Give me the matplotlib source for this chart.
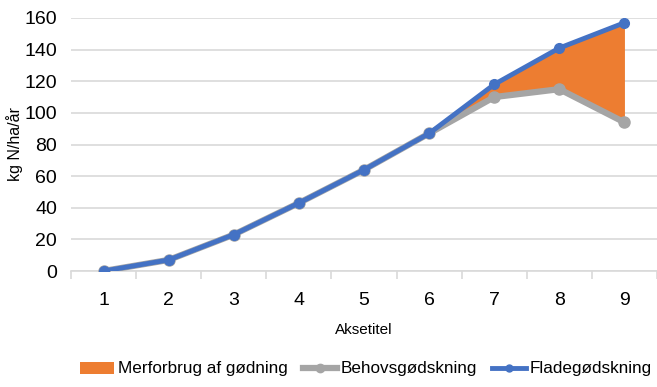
import numpy as np
import matplotlib
matplotlib.use("Agg")
import matplotlib.pyplot as plt
from matplotlib.patches import Patch
from matplotlib.lines import Line2D

# ---------------------------------------------------------------------------
# Data
# ---------------------------------------------------------------------------
categories = [1, 2, 3, 4, 5, 6, 7, 8, 9]
flade = [0, 7, 23, 43, 64, 87, 118, 141, 157]
behov = [0, 7, 23, 43, 64, 87, 110, 115, 94]
yticks = [0, 20, 40, 60, 80, 100, 120, 140, 160]

plt.rcParams["font.family"] = ["Liberation Sans", "DejaVu Sans"]

BLUE = "#4472c4"
GRAY = "#a5a5a5"
ORANGE = "#ed7d31"

fig = plt.figure(figsize=(6.57, 3.87), dpi=100)
ax = fig.add_axes([71 / 657, 1 - 271 / 387, 1 - 71 / 657, 253 / 387])

x = np.array(categories)
ax.fill_between(x, behov, flade, color=ORANGE, linewidth=0, zorder=2)
ax.plot(x, behov, color=GRAY, lw=4.5, marker="o", ms=8, zorder=3,
        solid_capstyle="round")
ax.plot(x, flade, color=BLUE, lw=3.5, marker="o", ms=7, zorder=4,
        solid_capstyle="round")

ax.set_xlim(0.5, 9.49)
ax.set_ylim(0, 160)
ax.set_yticks(yticks)
ax.set_xticks(categories)
ax.set_xticks(np.arange(0.5, 9.6, 1), minor=True)
ax.grid(axis="y", color="#d9d9d9", lw=1.2, zorder=0)
ax.tick_params(axis="y", length=0, labelsize=14, pad=10)
ax.tick_params(axis="x", which="major", length=0, labelsize=14, pad=15)
ax.tick_params(axis="x", which="minor", length=6, color="#d9d9d9", width=1.2)
for s in ["top", "right", "left"]:
    ax.spines[s].set_visible(False)
ax.spines["bottom"].set_color("#d9d9d9")
ax.spines["bottom"].set_linewidth(1.2)

ax.set_ylabel("kg N/ha/år", fontsize=11.5, va="center")
ax.yaxis.set_label_coords(-(71 - 15) / 586, 0.5)
ax.set_xlabel("Aksetitel", fontsize=11, labelpad=10)

handles = [
    Patch(facecolor=ORANGE, edgecolor="none"),
    Line2D([0], [0], color=GRAY, lw=4.5, marker="o", ms=6),
    Line2D([0], [0], color=BLUE, lw=3.5, marker="o", ms=5),
]
labels = ["Merforbrug af gødning", "Behovsgødskning", "Fladegødskning"]
fig.legend(handles, labels, loc="center", bbox_to_anchor=(366 / 657, 1 - 369 / 387),
           ncol=3, frameon=False, fontsize=12.3, handlelength=2.0,
           handletextpad=0.2, columnspacing=0.9)

fig.savefig("out.png", dpi=100)
